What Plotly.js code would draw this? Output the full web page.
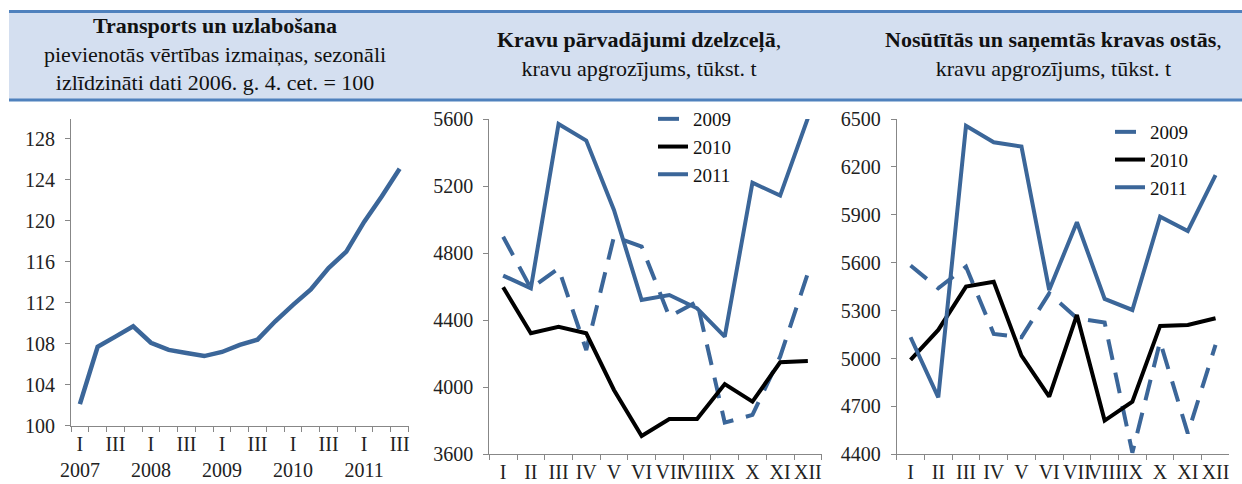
<!DOCTYPE html>
<html>
<head>
<meta charset="utf-8">
<script src="https://cdn.plot.ly/plotly-3.0.1.min.js"></script>
<style>html,body{margin:0;padding:0;background:#fff;}#chart{width:1242px;height:484px;}</style>
</head>
<body>
<div id="chart"></div>
<script>
// ---- Data ----
const quarterCats = ["2007 I","2007 II","2007 III","2007 IV","2008 I","2008 II","2008 III","2008 IV",
  "2009 I","2009 II","2009 III","2009 IV","2010 I","2010 II","2010 III","2010 IV","2011 I","2011 II","2011 III"];
const quarterTickText = ["I<br>2007","","III","","I<br>2008","","III","","I<br>2009","","III","",
  "I<br>2010","","III","","I<br>2011","","III"];
const transportIndex = [102.1,107.7,108.7,109.7,108.1,107.4,107.1,106.8,107.2,107.9,108.4,110.2,
  111.8,113.3,115.4,117.0,119.9,122.4,125.1];
const transportTicks = [100,104,108,112,116,120,124,128];

const months = ["I","II","III","IV","V","VI","VII","VIII","IX","X","XI","XII"];
const seriesNames = ["2009","2010","2011"];

const rail2009 = [4898,4590,4709,4222,4898,4839,4421,4511,3789,3835,4182,4680];
const rail2010 = [4596,4322,4361,4322,3984,3709,3811,3811,4019,3914,4149,4157];
const rail2011 = [4666,4590,5570,5471,5057,4520,4550,4471,4302,5220,5143,5605];
const railTicks = [3600,4000,4400,4800,5200,5600];

const port2009 = [5582,5440,5575,5154,5133,5408,5252,5225,4410,5106,4531,5085];
const port2010 = [4991,5179,5450,5481,5018,4761,5273,4611,4730,5204,5210,5252];
const port2011 = [5133,4757,6458,6354,6327,5429,5853,5373,5304,5888,5799,6149];
const portTicks = [4400,4700,5000,5300,5600,5900,6200,6500];

const titles = [
  "<b>Transports un uzlabošana</b><br>pievienotās vērtības izmaiņas, sezonāli<br>izlīdzināti dati 2006. g. 4. cet. = 100",
  "<b>Kravu pārvadājumi dzelzceļā</b>,<br>kravu apgrozījums, tūkst. t",
  "<b>Nosūtītās un saņemtās kravas ostās</b>,<br>kravu apgrozījums, tūkst. t"
];

// ---- Styling ----
const W = 1242, H = 484;
const BLUE = "#3b6699";
const FONT = "'Liberation Serif', 'DejaVu Serif', serif";
const px = v => v / W;
const py = v => (H - v) / H;

const styles = [
  {color: BLUE, dash: "21px,13px"},
  {color: "#000000", dash: "solid"},
  {color: BLUE, dash: "solid"}
];

const traces = [];
traces.push({x: quarterCats, y: transportIndex, type: "scatter", mode: "lines",
  line: {color: BLUE, width: 4.5}, xaxis: "x", yaxis: "y", showlegend: false, hoverinfo: "skip"});

const rail = [rail2009, rail2010, rail2011];
const port = [port2009, port2010, port2011];
seriesNames.forEach((n, i) => {
  traces.push({x: months, y: rail[i], type: "scatter", mode: "lines", name: n,
    line: {color: styles[i].color, width: 4, dash: styles[i].dash},
    xaxis: "x2", yaxis: "y2", legend: "legend"});
});
seriesNames.forEach((n, i) => {
  traces.push({x: months, y: port[i], type: "scatter", mode: "lines", name: n,
    line: {color: styles[i].color, width: 4, dash: styles[i].dash},
    xaxis: "x3", yaxis: "y3", legend: "legend2"});
});

const axisCommon = {
  showgrid: false, zeroline: false, showline: true, linecolor: "#878787", linewidth: 1,
  ticks: "outside", tickcolor: "#878787", ticklen: 5, tickwidth: 1,
  tickfont: {family: FONT, size: 20, color: "#222"}, fixedrange: true
};

const layout = {
  width: W, height: H,
  margin: {l: 0, r: 0, t: 0, b: 0},
  paper_bgcolor: "#ffffff", plot_bgcolor: "rgba(0,0,0,0)",
  font: {family: FONT, size: 19, color: "#111"},
  xaxis: Object.assign({}, axisCommon, {domain: [px(71), px(408.5)], anchor: "y", type: "category",
    range: [-0.5, 18.5], tickson: "boundaries", tickmode: "array", tickvals: quarterCats,
    ticktext: quarterTickText, tickangle: 0}),
  yaxis: Object.assign({}, axisCommon, {domain: [py(425.7), py(118.5)], anchor: "x",
    range: [100, 130], tickmode: "array", tickvals: transportTicks, ticklabelstandoff: 6}),
  xaxis2: Object.assign({}, axisCommon, {domain: [px(489.3), px(821.7)], anchor: "y2", type: "category",
    range: [-0.5, 11.5], tickson: "boundaries", tickangle: 0}),
  yaxis2: Object.assign({}, axisCommon, {domain: [py(454.3), py(119)], anchor: "x2",
    range: [3600, 5600], tickmode: "array", tickvals: railTicks, ticklabelstandoff: 6}),
  xaxis3: Object.assign({}, axisCommon, {domain: [px(896.7), px(1229.4)], anchor: "y3", type: "category",
    range: [-0.5, 11.5], tickson: "boundaries", tickangle: 0}),
  yaxis3: Object.assign({}, axisCommon, {domain: [py(454.3), py(119)], anchor: "x3",
    range: [4400, 6500], tickmode: "array", tickvals: portTicks, ticklabelstandoff: 6}),
  legend: {x: px(653), xanchor: "left", y: py(100), yanchor: "top", bgcolor: "rgba(0,0,0,0)",
    font: {family: FONT, size: 19, color: "#111"}, tracegroupgap: 0},
  legend2: {x: px(1110), xanchor: "left", y: py(113), yanchor: "top", bgcolor: "rgba(0,0,0,0)",
    font: {family: FONT, size: 19, color: "#111"}, tracegroupgap: 0},
  shapes: [
    {type: "rect", xref: "paper", yref: "paper", x0: px(9), x1: 1, y0: py(100), y1: py(11),
      fillcolor: "#d4dff0", line: {width: 0}, layer: "below"},
    {type: "line", xref: "paper", yref: "paper", x0: px(9), x1: 1, y0: py(11.5), y1: py(11.5),
      line: {color: "#4f81bd", width: 3}},
    {type: "line", xref: "paper", yref: "paper", x0: px(9), x1: 1, y0: py(100), y1: py(100),
      line: {color: "#4f81bd", width: 3}}
  ],
  annotations: [
    {text: titles[0], xref: "paper", yref: "paper", x: px(215), y: py(54), xanchor: "center", yanchor: "middle",
      showarrow: false, align: "center", font: {family: FONT, size: 22, color: "#111"}},
    {text: titles[1], xref: "paper", yref: "paper", x: px(639), y: py(54), xanchor: "center", yanchor: "middle",
      showarrow: false, align: "center", font: {family: FONT, size: 22, color: "#111"}},
    {text: titles[2], xref: "paper", yref: "paper", x: px(1053), y: py(54), xanchor: "center", yanchor: "middle",
      showarrow: false, align: "center", font: {family: FONT, size: 22, color: "#111"}}
  ]
};

Plotly.newPlot("chart", traces, layout, {displayModeBar: false, staticPlot: true});
</script>
</body>
</html>
